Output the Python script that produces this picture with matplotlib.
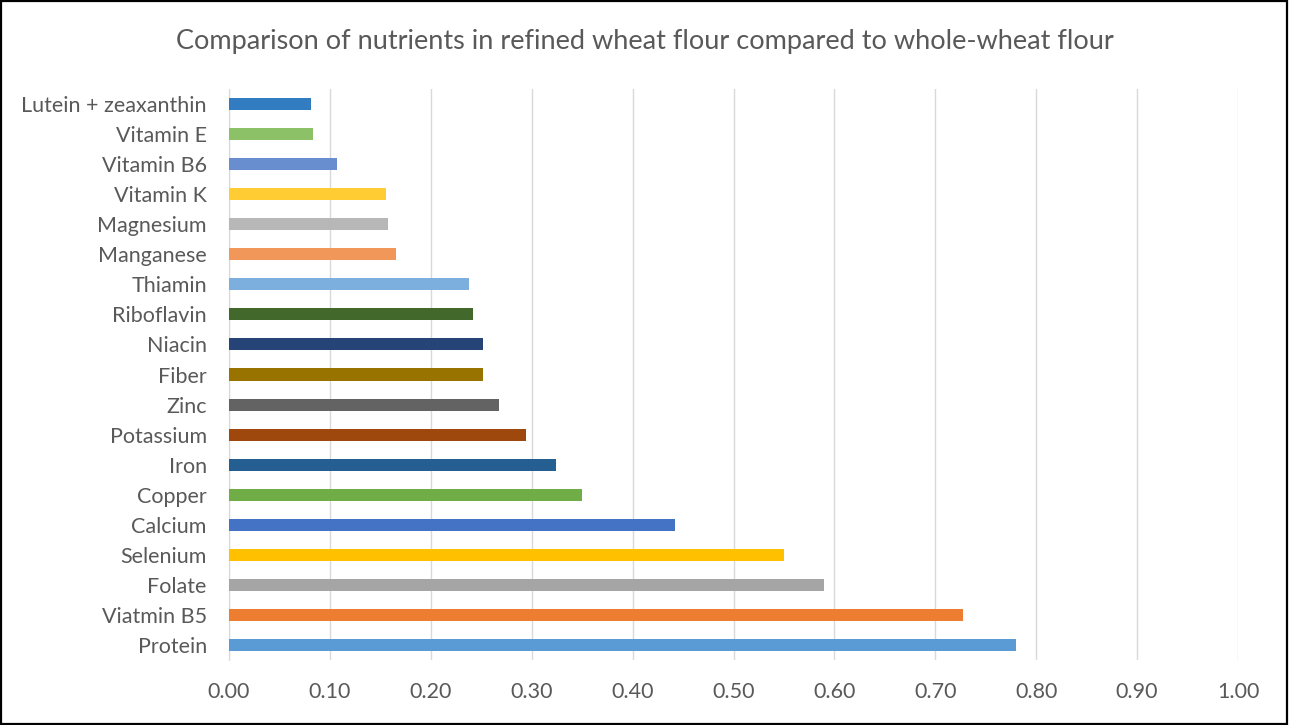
import matplotlib
matplotlib.use("Agg")
import matplotlib.pyplot as plt
from matplotlib.patches import Rectangle

# Ratio of nutrient content: refined wheat flour / whole-wheat flour
nutrients = ["Protein", "Viatmin B5", "Folate", "Selenium", "Calcium", "Copper",
             "Iron", "Potassium", "Zinc", "Fiber", "Niacin", "Riboflavin",
             "Thiamin", "Manganese", "Magnesium", "Vitamin K", "Vitamin B6",
             "Vitamin E", "Lutein + zeaxanthin"]
ratios = [0.78, 0.727, 0.59, 0.55, 0.442, 0.350,
          0.324, 0.294, 0.268, 0.252, 0.252, 0.242,
          0.238, 0.166, 0.158, 0.156, 0.107,
          0.083, 0.081]
bar_colors = ["#5B9BD5", "#ED7D31", "#A5A5A5", "#FFC000", "#4472C4", "#70AD47",
              "#255E91", "#9E480E", "#636363", "#997300", "#264478", "#43682B",
              "#7CAFDD", "#F1975A", "#B7B7B7", "#FFCD33", "#698ED0",
              "#8CC168", "#327DC2"]
x_ticks = [i / 10 for i in range(11)]
x_tick_labels = [f"{t:.2f}" for t in x_ticks]

plt.rcParams["font.family"] = ["Lato", "DejaVu Sans"]

fig = plt.figure(figsize=(12.9, 7.25), dpi=100)
ax = fig.add_axes([229 / 1290, 1 - 660 / 725, (1238 - 229) / 1290, (660 - 89) / 725])

ypos = list(range(len(nutrients)))
ax.barh(ypos, ratios, height=0.4, color=bar_colors, zorder=3)

ax.set_xlim(0, 1.0)
ax.set_ylim(-0.5, len(nutrients) - 0.5)
ax.set_xticks(x_ticks)
ax.set_xticklabels(x_tick_labels)
ax.set_yticks(ypos)
ax.set_yticklabels(nutrients)

ax.grid(axis="x", color="#D9D9D9", linewidth=1.0, zorder=0)
for side in ["top", "right", "bottom"]:
    ax.spines[side].set_visible(False)
ax.spines["left"].set_color("#D9D9D9")
ax.tick_params(axis="both", length=0, labelsize=15.5, labelcolor="#595959")
ax.tick_params(axis="x", pad=16)
ax.tick_params(axis="y", pad=16)

fig.text(0.5, 1 - 42 / 725, "Comparison of nutrients in refined wheat flour compared to whole-wheat flour",
         ha="center", va="center", fontsize=19.5, color="#595959")

# outer chart border
fig.patches.append(Rectangle((0.001, 0.002), 0.997, 0.996, transform=fig.transFigure,
                             fill=False, edgecolor="black", linewidth=1.6))

fig.savefig("out.png", dpi=100)
